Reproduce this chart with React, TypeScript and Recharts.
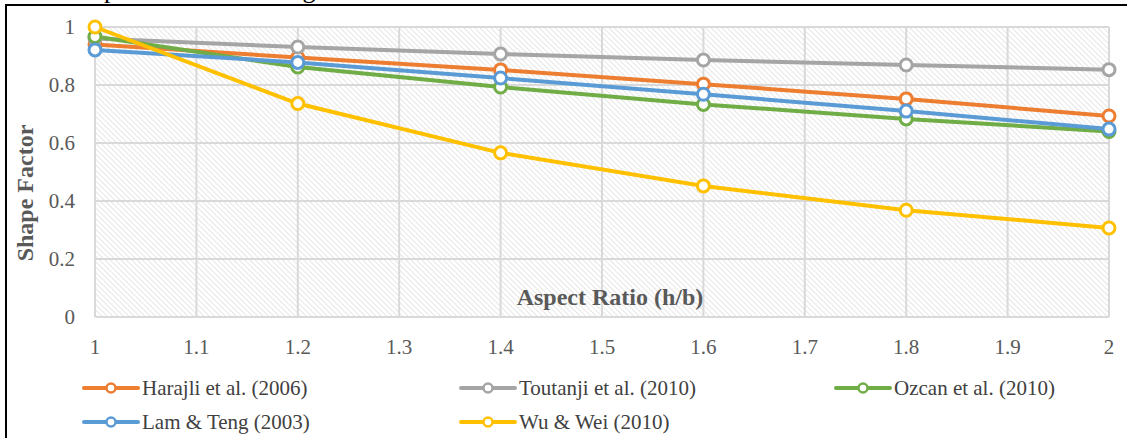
import { CartesianGrid, Label, Line, LineChart, XAxis, YAxis } from "recharts";

const ratios = [1, 1.2, 1.4, 1.6, 1.8, 2];
const harajli = [0.94, 0.895, 0.852, 0.803, 0.752, 0.693];
const toutanji = [0.96, 0.931, 0.907, 0.886, 0.869, 0.853];
const ozcan = [0.967, 0.862, 0.793, 0.733, 0.683, 0.64];
const lamTeng = [0.921, 0.878, 0.824, 0.768, 0.71, 0.648];
const wuWei = [1.0, 0.736, 0.566, 0.452, 0.368, 0.307];

const xTicks = [1, 1.1, 1.2, 1.3, 1.4, 1.5, 1.6, 1.7, 1.8, 1.9, 2];
const yTicks = [0, 0.2, 0.4, 0.6, 0.8, 1];

const series = [
  { key: "harajli", name: "Harajli et al. (2006)", color: "#ED7D31", values: harajli },
  { key: "toutanji", name: "Toutanji et al. (2010)", color: "#A5A5A5", values: toutanji },
  { key: "ozcan", name: "Ozcan et al. (2010)", color: "#70AD47", values: ozcan },
  { key: "lam", name: "Lam & Teng (2003)", color: "#5B9BD5", values: lamTeng },
  { key: "wu", name: "Wu & Wei (2010)", color: "#FFC000", values: wuWei },
];

const data = ratios.map((r, i) => {
  const row: Record<string, number> = { ratio: r };
  series.forEach((s) => (row[s.key] = s.values[i]));
  return row;
});

const serif = "'Liberation Serif', 'Times New Roman', serif";
const tickStyle = { fill: "#595959", fontSize: 21, fontFamily: serif };

function LegendItem({ name, color }: { name: string; color: string }) {
  return (
    <div style={{ display: "flex", alignItems: "center", height: 34 }}>
      <svg width={58} height={14} style={{ marginRight: 2 }}>
        <line x1={2} y1={7} x2={56} y2={7} stroke={color} strokeWidth={4} strokeLinecap="round" />
        <circle cx={29} cy={7} r={4.5} fill="#fff" stroke={color} strokeWidth={2.5} />
      </svg>
      <span style={{ fontFamily: serif, fontSize: 21, color: "#404040" }}>{name}</span>
    </div>
  );
}

export default function App() {
  return (
    <div style={{ position: "absolute", left: 0, top: 0, width: 1127, height: 438, overflow: "hidden", background: "#fff" }}>
      <div
        style={{
          position: "absolute",
          left: 65,
          top: -23,
          fontFamily: serif,
          fontSize: 26,
          lineHeight: "26px",
          whiteSpace: "nowrap",
          color: "#000",
        }}
      >
        Shape factor for rectangular columns
      </div>
      <div
        style={{
          position: "absolute",
          left: 5,
          top: 4,
          width: 1130,
          height: 440,
          borderLeft: "2px solid #000",
          borderTop: "2px solid #000",
        }}
      />
      <div style={{ position: "absolute", left: 0, top: 0 }}>
        <LineChart width={1127} height={438} data={data} margin={{ top: 27, right: 18, left: 0, bottom: 81 }}>
          <defs>
            <pattern id="hatch" width={3.8} height={3.8} patternUnits="userSpaceOnUse" patternTransform="rotate(-45)">
              <rect width={3.8} height={3.8} fill="#fff" />
              <line x1={0} y1={0} x2={0} y2={3.8} stroke="#d9d9d9" strokeWidth={1.3} />
            </pattern>
          </defs>
          <CartesianGrid stroke="#d9d9d9" strokeWidth={2} fill="url(#hatch)" fillOpacity={1} />
          <XAxis
            dataKey="ratio"
            type="number"
            domain={[1, 2]}
            ticks={xTicks}
            tickFormatter={(v) => String(v)}
            axisLine={false}
            tickLine={false}
            tickSize={0}
            tickMargin={22}
            height={40}
            tick={tickStyle}
          >
            <Label
              content={({ viewBox }: any) => (
                <text
                  x={viewBox.x + viewBox.width / 2 + 8}
                  y={viewBox.y - 12}
                  textAnchor="middle"
                  fontFamily={serif}
                  fontSize={24}
                  fontWeight="bold"
                  fill="#595959"
                >
                  Aspect Ratio (h/b)
                </text>
              )}
            />
          </XAxis>
          <YAxis
            type="number"
            domain={[0, 1]}
            ticks={yTicks}
            tickFormatter={(v) => String(v)}
            axisLine={false}
            tickLine={false}
            tickSize={0}
            tickMargin={20}
            width={95}
            tick={tickStyle}
          >
            <Label
              content={({ viewBox }: any) => (
                <text
                  x={viewBox.x + 33}
                  y={viewBox.y + 166}
                  transform={`rotate(-90, ${viewBox.x + 33}, ${viewBox.y + 166})`}
                  textAnchor="middle"
                  fontFamily={serif}
                  fontSize={24}
                  fontWeight="bold"
                  fill="#595959"
                >
                  Shape Factor
                </text>
              )}
            />
          </YAxis>
          {series.map((s) => (
            <Line
              key={s.key}
              dataKey={s.key}
              name={s.name}
              type="linear"
              stroke={s.color}
              strokeWidth={4}
              dot={{ r: 6, strokeWidth: 3, fill: "#fff", stroke: s.color }}
              activeDot={false}
              isAnimationActive={false}
            />
          ))}
        </LineChart>
      </div>
      <div style={{ position: "absolute", left: 82, top: 371 }}>
        <div style={{ display: "flex" }}>
          <div style={{ width: 377 }}>
            <LegendItem name={series[0].name} color={series[0].color} />
          </div>
          <div style={{ width: 375 }}>
            <LegendItem name={series[1].name} color={series[1].color} />
          </div>
          <LegendItem name={series[2].name} color={series[2].color} />
        </div>
        <div style={{ display: "flex" }}>
          <div style={{ width: 377 }}>
            <LegendItem name={series[3].name} color={series[3].color} />
          </div>
          <LegendItem name={series[4].name} color={series[4].color} />
        </div>
      </div>
    </div>
  );
}
